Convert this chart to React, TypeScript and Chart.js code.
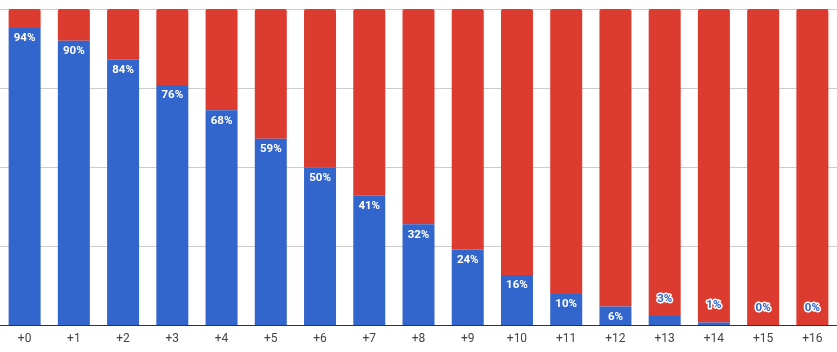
import React, { useEffect, useRef } from "react";
import { Chart, registerables } from "chart.js";

Chart.register(...registerables);

const categories = ["+0", "+1", "+2", "+3", "+4", "+5", "+6", "+7", "+8", "+9", "+10", "+11", "+12", "+13", "+14", "+15", "+16"];
const retained = [94, 90, 84, 76, 68, 59, 50, 41, 32, 24, 16, 10, 6, 3, 1, 0, 0];
const lost = [6, 10, 16, 24, 32, 41, 50, 59, 68, 76, 84, 90, 94, 97, 99, 100, 100];

const BLUE = "#3366cc";
const RED = "#dc3b30";

const labelPlugin = {
  id: "barLabels",
  afterDatasetsDraw(chart: any) {
    const ctx = chart.ctx;
    const meta = chart.getDatasetMeta(0);
    ctx.save();
    ctx.font = "bold 11.5px Roboto";
    ctx.textAlign = "center";
    ctx.textBaseline = "middle";
    meta.data.forEach((el: any, i: number) => {
      const v = retained[i];
      const text = v + "%";
      if (v >= 5) {
        ctx.fillStyle = "#ffffff";
        ctx.fillText(text, el.x, el.y + 10.5);
      } else {
        const y = el.y - 17;
        ctx.lineJoin = "round";
        ctx.lineWidth = 3;
        ctx.strokeStyle = "#ffffff";
        ctx.strokeText(text, el.x, y);
        ctx.fillStyle = BLUE;
        ctx.fillText(text, el.x, y);
      }
    });
    ctx.restore();
  },
};

export default function App() {
  const ref = useRef<HTMLCanvasElement>(null);
  useEffect(() => {
    document.body.style.margin = "0";
    const chart = new Chart(ref.current!, {
      type: "bar",
      data: {
        labels: categories,
        datasets: [
          { label: "Retained", data: retained, backgroundColor: BLUE, borderWidth: 0 },
          { label: "Lost", data: lost, backgroundColor: RED, borderWidth: 0, borderRadius: { topLeft: 2, topRight: 2 }, borderSkipped: false },
        ],
      },
      options: {
        animation: false,
        responsive: false,
        maintainAspectRatio: false,
        layout: { padding: { top: 9, left: 0, right: 0, bottom: 0 } },
        datasets: { bar: { categoryPercentage: 1, barPercentage: 0.65 } },
        plugins: { legend: { display: false }, tooltip: { enabled: false } },
        scales: {
          x: {
            stacked: true,
            grid: { display: false, drawTicks: false },
            border: { display: true, color: "#333333", width: 1 },
            ticks: { color: "#444444", font: { family: "Roboto", size: 12 }, padding: 6 },
          },
          y: {
            stacked: true,
            min: 0,
            max: 100,
            ticks: { display: false, stepSize: 25 },
            grid: { color: "#cccccc", drawTicks: false },
            border: { display: false },
          },
        },
      },
      plugins: [labelPlugin],
    });
    return () => chart.destroy();
  }, []);
  return (
    <div style={{ position: "fixed", left: 0, top: 0, width: 837, height: 352 }}>
      <canvas ref={ref} width={837} height={352} style={{ width: 837, height: 352 }} />
    </div>
  );
}
